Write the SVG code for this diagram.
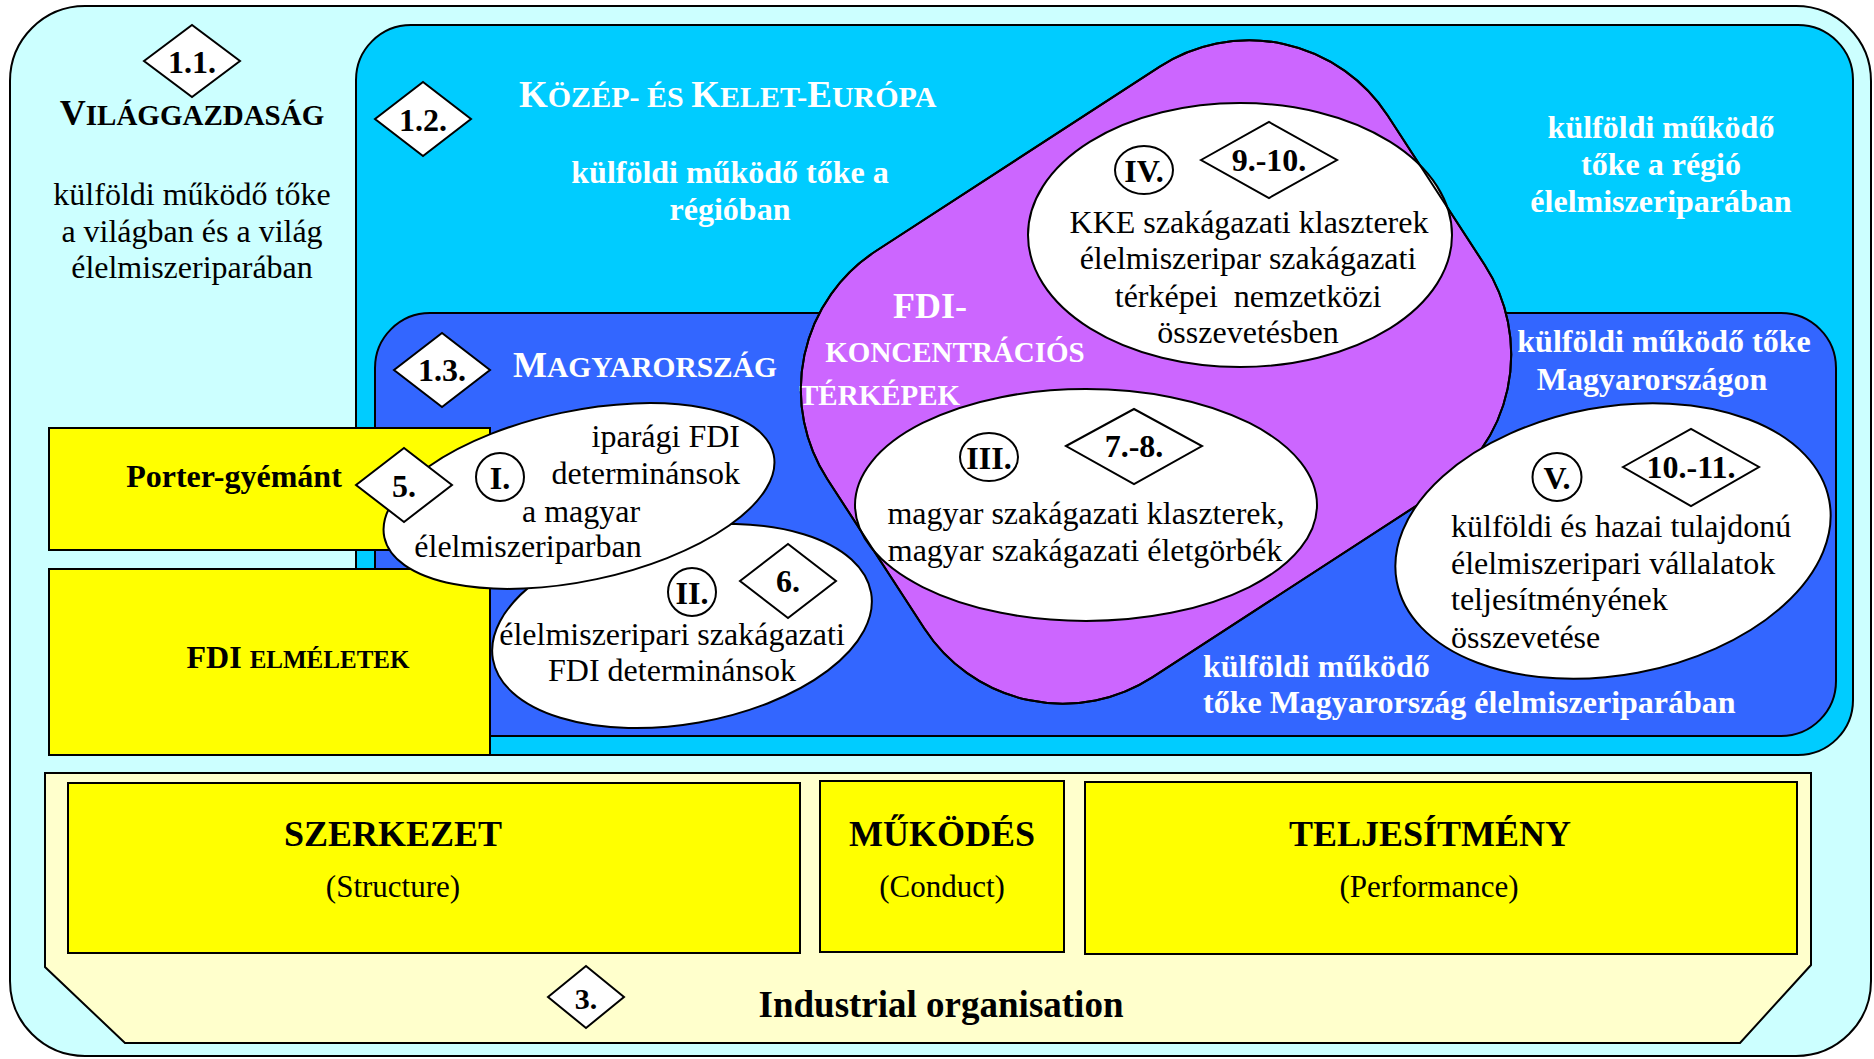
<svg xmlns="http://www.w3.org/2000/svg" width="1874" height="1059" viewBox="0 0 1874 1059">
<style>
text{font-family:"Liberation Serif","Times New Roman",serif;font-size:32px;fill:#000}
.b{font-weight:bold}
.w{fill:#fff;font-weight:bold}
.c{text-anchor:middle}
.sc{font-size:29px}
.ln{stroke:#000;stroke-width:2}
.dia{fill:#fff;stroke:#000;stroke-width:2}
.ell{fill:#fff;stroke:#000;stroke-width:2}
.yel{fill:#ffff00;stroke:#000;stroke-width:2}
</style>
<g id="vilaggazdasag">
<rect x="10" y="6" width="1861" height="1050" rx="75" fill="#ccffff" class="ln"/>
<polygon class="dia" points="144,61 192,25 240,61 192,97"/>
<text class="b c" x="192" y="73">1.1.</text>
<text class="b c" x="192" y="125" style="font-size:36px">V<tspan class="sc">ILÁGGAZDASÁG</tspan></text>
<text class="c" x="192" y="205">külföldi működő tőke</text>
<text class="c" x="192" y="242">a világban és a világ</text>
<text class="c" x="192" y="278">élelmiszeriparában</text>
</g>
<g id="kke">
<rect x="356" y="25" width="1497" height="730" rx="55" fill="#00ccff" class="ln"/>
<polygon class="dia" points="375,119 423,82 471,119 423,156"/>
<text class="b c" x="423" y="131">1.2.</text>
<text class="w" x="519" y="107" style="font-size:37px">K<tspan style="font-size:30px">ÖZÉP- ÉS </tspan>K<tspan style="font-size:30px">ELET-</tspan>E<tspan style="font-size:30px">URÓPA</tspan></text>
<text class="w c" x="730" y="183">külföldi működő tőke a</text>
<text class="w c" x="730" y="220">régióban</text>
<text class="w c" x="1661" y="138">külföldi működő</text>
<text class="w c" x="1661" y="175">tőke a régió</text>
<text class="w c" x="1661" y="212">élelmiszeriparában</text>
</g>
<g id="magyarorszag">
<rect x="375" y="313" width="1461" height="423" rx="55" fill="#3366ff" class="ln"/>
<polygon class="dia" points="394,370 442,333 490,370 442,407"/>
<text class="b c" x="442" y="381">1.3.</text>
<text class="w" x="513" y="377" style="font-size:36px">M<tspan style="font-size:29.5px">AGYARORSZÁG</tspan></text>
<text class="w c" x="1664" y="352">külföldi működő tőke</text>
<text class="w c" x="1652" y="390">Magyarországon</text>
<text class="w" x="1203" y="677">külföldi működő</text>
<text class="w" x="1203" y="713">tőke Magyarország élelmiszeriparában</text>
</g>
<g id="fdi-koncentracio">
<rect x="-334" y="-254" width="668" height="508" rx="165" fill="#cc66ff" class="ln" transform="translate(1156,372) rotate(-33)"/>
<text class="w c" x="930" y="318" style="font-size:36px">FDI-</text>
<text class="w c sc" x="955" y="362">KONCENTRÁCIÓS</text>
<text class="w sc" x="799" y="405">TÉRKÉPEK</text>
</g>
<g id="porter">
<rect x="49" y="428" width="441" height="122" class="yel"/>
<text class="b c" x="234" y="487">Porter-gyémánt</text>
</g>
<g id="fdi-elmeletek">
<rect x="49" y="569" width="441" height="186" class="yel"/>
<text class="b c" x="298" y="668">FDI <tspan style="font-size:25px">ELMÉLETEK</tspan></text>
</g>
<g id="node-II">
<ellipse class="ell" cx="682" cy="626" rx="192" ry="98" transform="rotate(-10 682 626)"/>
<ellipse class="ell" cx="692" cy="592" rx="24" ry="24"/>
<text class="b c" x="692" y="604">II.</text>
<polygon class="dia" points="740,581 788,544 836,581 788,618"/>
<text class="b c" x="788" y="592">6.</text>
<text class="c" x="672" y="645">élelmiszeripari szakágazati</text>
<text class="c" x="672" y="681">FDI determinánsok</text>
</g>
<g id="node-I">
<ellipse class="ell" cx="579" cy="496" rx="199" ry="85" transform="rotate(-12 579 496)"/>
<ellipse class="ell" cx="500" cy="477" rx="24" ry="24"/>
<text class="b c" x="500" y="489">I.</text>
<text x="740" y="447" style="text-anchor:end">iparági FDI</text>
<text x="740" y="484" style="text-anchor:end">determinánsok</text>
<text class="c" x="581" y="522">a magyar</text>
<text class="c" x="528" y="557">élelmiszeriparban</text>
</g>
<g id="porter-diamond">
<polygon class="dia" points="356,485 404,448 452,485 404,522"/>
<text class="b c" x="404" y="497">5.</text>
</g>
<g id="node-IV">
<ellipse class="ell" cx="1240" cy="235" rx="212" ry="132"/>
<ellipse class="ell" cx="1144" cy="170" rx="29" ry="24"/>
<text class="b c" x="1144" y="182">IV.</text>
<polygon class="dia" points="1201,160 1269,122 1337,160 1269,198"/>
<text class="b c" x="1269" y="171">9.-10.</text>
<text class="c" x="1249" y="233">KKE szakágazati klaszterek</text>
<text class="c" x="1248" y="269">élelmiszeripar szakágazati</text>
<text class="c" x="1248" y="307" xml:space="preserve">térképei  nemzetközi</text>
<text class="c" x="1248" y="343">összevetésben</text>
</g>
<g id="node-III">
<ellipse class="ell" cx="1086" cy="505" rx="231" ry="116"/>
<ellipse class="ell" cx="989" cy="457" rx="29" ry="24"/>
<text class="b c" x="989" y="469">III.</text>
<polygon class="dia" points="1066,446 1134,409 1202,446 1134,484"/>
<text class="b c" x="1134" y="457">7.-8.</text>
<text class="c" x="1086" y="524">magyar szakágazati klaszterek,</text>
<text class="c" x="1085" y="561">magyar szakágazati életgörbék</text>
</g>
<g id="fdi-outline">
<rect x="-334" y="-254" width="668" height="508" rx="165" fill="none" class="ln" transform="translate(1156,372) rotate(-33)"/>
</g>
<g id="node-V">
<ellipse class="ell" cx="1613" cy="541" rx="220" ry="134" transform="rotate(-10.6 1613 541)"/>
<ellipse class="ell" cx="1557" cy="477" rx="24.5" ry="24"/>
<text class="b c" x="1557" y="489">V.</text>
<polygon class="dia" points="1623,467 1691,429 1759,467 1691,506"/>
<text class="b c" x="1691" y="478">10.-11.</text>
<text x="1451" y="537">külföldi és hazai tulajdonú</text>
<text x="1451" y="574">élelmiszeripari vállalatok</text>
<text x="1451" y="610">teljesítményének</text>
<text x="1451" y="648">összevetése</text>
</g>
<g id="industrial-organisation">
<polygon points="45,773 1811,773 1811,965 1740,1043 125,1043 45,967" fill="#ffffcc" class="ln"/>
<polygon class="dia" points="548,997 586,966 624,997 586,1028"/>
<text class="b c" x="586" y="1009" style="font-size:30px">3.</text>
<text class="b c" x="941" y="1017" style="font-size:37px">Industrial organisation</text>
</g>
<g id="szerkezet">
<rect x="68" y="783" width="732" height="170" class="yel"/>
<text class="b c" x="393" y="846" style="font-size:36px">SZERKEZET</text>
<text class="c" x="393" y="897" style="font-size:31px">(Structure)</text>
</g>
<g id="mukodes">
<rect x="820" y="781" width="244" height="171" class="yel"/>
<text class="b c" x="942" y="846" style="font-size:36px">MŰKÖDÉS</text>
<text class="c" x="942" y="897" style="font-size:31px">(Conduct)</text>
</g>
<g id="teljesitmeny">
<rect x="1085" y="782" width="712" height="172" class="yel"/>
<text class="b c" x="1430" y="846" style="font-size:36px">TELJESÍTMÉNY</text>
<text class="c" x="1429" y="897" style="font-size:31px">(Performance)</text>
</g>
<g id="connectors"></g>
</svg>
